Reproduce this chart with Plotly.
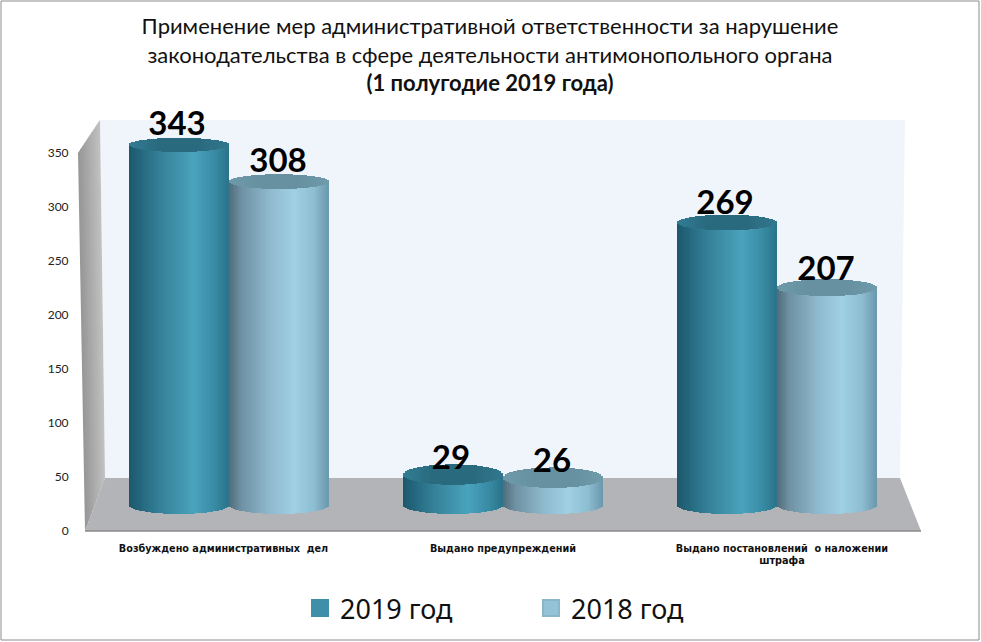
import numpy as np
import plotly.graph_objects as go

categories = ["Возбуждено административных  дел", "Выдано предупреждений", "Выдано постановлений  о наложении<br>штрафа"]
values_2019 = [343, 29, 269]
values_2018 = [308, 26, 207]
y_ticks = [0, 50, 100, 150, 200, 250, 300, 350]
title_text = ("Применение мер административной ответственности за нарушение<br>"
              "законодательства в сфере деятельности антимонопольного органа<br>"
              "<b>(1 полугодие 2019 года)</b>")

W, H = 981, 642
L, R, T, B = 85, 921, 110, 531
BASE_PX = 505
PX_PER_UNIT = 1.05
TICK_PX_PER_UNIT = 1.08
GROUP_PX = 274
CYL_W = 100 / GROUP_PX
N = 50

STOPS_2019 = ([0, .12, .3, .65, .85, 1], [(29, 88, 108), (36, 104, 126), (52, 128, 152), (74, 163, 189), (58, 140, 165), (42, 115, 138)])
STOPS_2018 = ([0, .12, .4, .65, .85, 1], [(80, 108, 122), (110, 145, 163), (143, 185, 204), (160, 208, 228), (142, 190, 209), (105, 152, 172)])
TOP_2019 = ([0, .3, .7, 1], [(50, 125, 148), (42, 106, 126), (43, 106, 126), (50, 120, 142)])
TOP_2018 = ([0, .3, .7, 1], [(110, 155, 170), (103, 145, 160), (103, 145, 160), (112, 155, 170)])


def X(px):
    return (px - L) / (R - L)


def Y(py):
    return (B - py) / (B - T)


def ramp(stops, u):
    pos, cols = stops
    c = np.array(cols, dtype=float)
    r = [np.interp(u, pos, c[:, i]) for i in range(3)]
    return [f"rgb({int(a)},{int(b)},{int(d)})" for a, b, d in zip(*r)]


def cylinder(vals, offset, side_stops, top_stops):
    u = (np.arange(N) + 0.5) / N
    arc = np.sqrt(1 - (2 * u - 1) ** 2)
    xs, ws, bases, hs, cols, txs, tbases, ths, tcols = [], [], [], [], [], [], [], [], []
    side_c = ramp(side_stops, u)
    top_c = ramp(top_stops, u)
    for g, v in enumerate(vals):
        e = (10.5 - 0.01 * v) / PX_PER_UNIT
        e0 = 9 / PX_PER_UNIT
        sx = g + offset + (u - 0.5) * CYL_W
        xs += list(sx)
        ws += [CYL_W / N * 1.2] * N
        bases += list(-e0 * arc)
        hs += list(v + e0 * arc)
        cols += side_c
        txs += list(sx)
        tbases += list(v - e * arc)
        ths += list(2 * e * arc)
        tcols += top_c
    return [
        go.Bar(x=xs, y=hs, base=bases, width=ws, marker=dict(color=cols, line=dict(width=0)),
               showlegend=False, hoverinfo="skip"),
        go.Bar(x=txs, y=ths, base=tbases, width=ws, marker=dict(color=tcols, line=dict(width=0)),
               showlegend=False, hoverinfo="skip"),
    ]


fig = go.Figure()
fig.add_traces(cylinder(values_2019, -50 / GROUP_PX, STOPS_2019, TOP_2019))
fig.add_traces(cylinder(values_2018, 50 / GROUP_PX, STOPS_2018, TOP_2018))

for vals, off in ((values_2019, -52 / GROUP_PX), (values_2018, 49 / GROUP_PX)):
    fig.add_trace(go.Scatter(x=[g + off for g in range(3)], y=[v + 13 + 0.012 * v for v in vals],
                             text=[str(v) for v in vals], mode="text", textposition="middle center",
                             textfont=dict(family="Lato", size=33, color="#000", weight="bold"),
                             showlegend=False, hoverinfo="skip"))

# axis carrier for the value ticks
fig.add_trace(go.Scatter(x=[0], y=[0], yaxis="y2", mode="markers", marker=dict(opacity=0),
                         showlegend=False, hoverinfo="skip"))

# legend entries
fig.add_trace(go.Scatter(x=[None], y=[None], mode="markers", name="2019 год",
                         marker=dict(symbol="square", size=16, color="#3F8FA9", line=dict(color="#3F8FA9", width=2))))
fig.add_trace(go.Scatter(x=[None], y=[None], mode="markers", name="2018 год",
                         marker=dict(symbol="square", size=16, color="#93C3D6", line=dict(color="#8AB6C8", width=2))))


def poly(points, fill):
    path = "M " + " L ".join(f"{X(x):.5f},{Y(y):.5f}" for x, y in points) + " Z"
    return dict(type="path", xref="paper", yref="paper", path=path, fillcolor=fill,
                line=dict(width=0), layer="below")


shapes = [
    dict(type="rect", xref="paper", yref="paper", x0=X(1), x1=X(979), y0=Y(640), y1=Y(1),
         line=dict(color="#8c8c8c", width=1), fillcolor="white", layer="below"),
    poly([(100, 120), (905, 120), (900, 478), (105, 478)], "#F0F5FB"),
]
# left wall gradient
n_w = 10
top = lambda t: (78 + 22 * t, 153 - 33 * t)
bot = lambda t: (85 + 20 * t, 531 - 53 * t)
for i in range(n_w):
    a, b = i / n_w, min((i + 1.5) / n_w, 1)
    shade = int(152 + 40 * (i / (n_w - 1)))
    shapes.append(poly([top(a), top(b), bot(b), bot(a)], f"rgb({shade},{shade},{shade})"))
shapes.append(poly([(105, 478), (900, 478), (921, 531), (85, 531)], "#B3B4B8"))
shapes.append(dict(type="line", xref="paper", yref="paper", x0=X(85), x1=X(921), y0=Y(531), y1=Y(531),
                   line=dict(color="#8a8a8a", width=1.5), layer="below"))

fig.update_layout(
    width=W, height=H,
    margin=dict(l=L, r=W - R, t=T, b=H - B, pad=0),
    paper_bgcolor="white", plot_bgcolor="rgba(0,0,0,0)",
    barmode="overlay", bargap=0,
    title=dict(text=title_text, x=490 / W, xanchor="center", y=1 - 34 / H, yanchor="top",
               font=dict(family="Lato", size=22, color="#111")),
    xaxis=dict(range=[(L - 229) / GROUP_PX, (R - 229) / GROUP_PX], tickvals=[-0.02, 1, 2.018], ticktext=categories,
               showgrid=False, zeroline=False, showline=False, ticks="outside", ticklen=8,
               tickcolor="rgba(0,0,0,0)", tickangle=0,
               tickfont=dict(family="DejaVu Sans", size=9.7, color="#111", weight="bold")),
    yaxis=dict(range=[(BASE_PX - B) / PX_PER_UNIT, (BASE_PX - T) / PX_PER_UNIT], visible=False),
    yaxis2=dict(range=[0, (B - T) / TICK_PX_PER_UNIT], overlaying="y", side="left",
                tickvals=y_ticks, showgrid=False, zeroline=False, showline=False,
                ticks="outside", ticklen=13, tickcolor="rgba(0,0,0,0)",
                tickfont=dict(family="Lato", size=12, color="#222")),
    legend=dict(orientation="h", xref="container", yref="container", x=300 / W, xanchor="left",
                y=1 - 584 / H, yanchor="top",
                font=dict(family="Noto Sans", size=27, color="#111"), bgcolor="rgba(0,0,0,0)",
                entrywidth=186, entrywidthmode="pixels", itemsizing="trace", itemclick=False, itemdoubleclick=False),
    shapes=shapes,
    showlegend=True,
)

fig.write_html("out.html", config={"displayModeBar": False},
               post_script="document.body.style.margin='0';document.documentElement.style.overflow='hidden';")
